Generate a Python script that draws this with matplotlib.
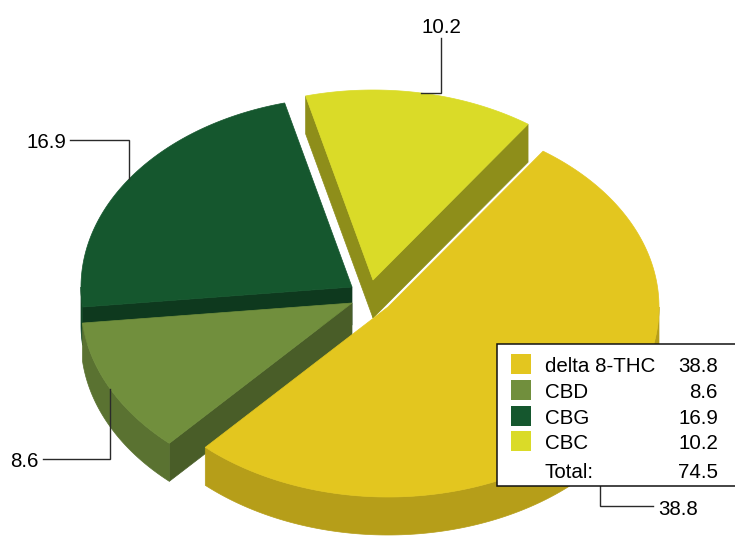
import numpy as np
import matplotlib
matplotlib.use('Agg')
import matplotlib.pyplot as plt
from matplotlib.patches import Polygon, Rectangle
from matplotlib.colors import to_rgb

# ---- data ----
categories = ['delta 8-THC', 'CBD', 'CBG', 'CBC']
values = [38.8, 8.6, 16.9, 10.2]
total_label = 'Total:'

# ---- style ----
colors = ['#E3C61F', '#718F3D', '#15572E', '#DADB28']
FONT = 'Liberation Sans'
FS = 14.8

W, H = 735, 540
fig = plt.figure(figsize=(W / 100, H / 100), dpi=100)
ax = fig.add_axes([0, 0, 1, 1])
ax.set_xlim(0, W)
ax.set_ylim(H, 0)
ax.axis('off')
fig.patch.set_facecolor('white')

# pie geometry (pixel space)
cx, cy = 352, 287
rx, ry = 271, 190
depth = 38
startangle = 55.1
explode_px = [(36, 20), (0, 16), (0, 0), (21, -7)]
# label leader ends and elbow mode ('v' = vertical first, 'h' = horizontal first)
label_ends = [(653, 506), (43, 459), (70, 140), (441, 38)]
label_modes = ['v', 'v', 'v', 'h']

vals = np.array(values, dtype=float)
spans = vals / vals.sum() * 360.0
a2s = startangle - np.concatenate([[0.0], np.cumsum(spans)[:-1]])
a1s = a2s - spans
mids = (a1s + a2s) / 2.0


def shade(c, f):
    r, g, b = to_rgb(c)
    return (r * f, g * f, b * f)


def pt(c, th_deg, dz=0.0):
    th = np.radians(th_deg)
    return (c[0] + rx * np.cos(th), c[1] - ry * np.sin(th) + dz)


order = np.argsort(-np.sin(np.radians(mids)))
anchors = {}
for rank, i in enumerate(order):
    a1, a2 = a1s[i], a2s[i]
    c = (cx + explode_px[i][0], cy + explode_px[i][1])
    z = 2 + rank * 5
    top_c = colors[i]
    side_c = shade(top_c, 0.80)
    rad_c = shade(top_c, 0.65)

    # radial faces
    for ang, vis in ((a1, np.cos(np.radians(a1)) > 0), (a2, np.cos(np.radians(a2)) < 0)):
        if vis:
            p = pt(c, ang)
            poly = [c, p, (p[0], p[1] + depth), (c[0], c[1] + depth)]
            ax.add_patch(Polygon(poly, closed=True, facecolor=rad_c, edgecolor=rad_c,
                                 lw=0.5, zorder=z))
    # outer curved side (front half only)
    for k in range(-2, 3):
        lo = max(a1, 180 + 360 * k)
        hi = min(a2, 360 + 360 * k)
        if hi > lo:
            t = np.linspace(lo, hi, 200)
            topp = [pt(c, tt) for tt in t]
            botp = [pt(c, tt, depth) for tt in t[::-1]]
            ax.add_patch(Polygon(topp + botp, closed=True, facecolor=side_c,
                                 edgecolor=side_c, lw=0.5, zorder=z + 1))
    # top face
    t = np.linspace(a1, a2, 300)
    poly = [c] + [pt(c, tt) for tt in t]
    ax.add_patch(Polygon(poly, closed=True, facecolor=top_c, edgecolor=top_c,
                         lw=0.5, zorder=z + 2))
    anchors[i] = pt(c, mids[i])

# leader lines and labels
for i in range(len(values)):
    ax0, ay0 = anchors[i]
    ex, ey = label_ends[i]
    if label_modes[i] == 'v':
        xs, ys = [ax0, ax0, ex], [ay0, ey, ey]
    else:
        xs, ys = [ax0, ex, ex], [ay0, ay0, ey]
    ax.plot(xs, ys, color='#2a2a2a', lw=1.0, zorder=30, solid_joinstyle='miter')
    txt = f'{values[i]:.1f}'
    if label_modes[i] == 'h':
        ax.text(ex, ey - 5, txt, ha='center', va='baseline', fontsize=FS,
                family=FONT, zorder=31)
    elif ex < ax0:
        ax.text(ex - 4, ey + 8, txt, ha='right', va='baseline', fontsize=FS,
                family=FONT, zorder=31)
    else:
        ax.text(ex + 5, ey + 9, txt, ha='left', va='baseline', fontsize=FS,
                family=FONT, zorder=31)

# legend box
ax.add_patch(Rectangle((497, 344), 260, 142, facecolor='white', edgecolor='#111111',
                       lw=1.1, zorder=40))
row_c = [364, 390, 416, 441]
for i, name in enumerate(categories):
    yc = row_c[i]
    ax.add_patch(Rectangle((511, yc - 10), 20, 20, facecolor=colors[i],
                           edgecolor='none', zorder=41))
    ax.text(545, yc + 8, name, ha='left', va='baseline', fontsize=FS, family=FONT, zorder=42)
    ax.text(718, yc + 8, f'{values[i]:.1f}', ha='right', va='baseline', fontsize=FS,
            family=FONT, zorder=42)
ax.text(545, 478, total_label, ha='left', va='baseline', fontsize=FS, family=FONT, zorder=42)
ax.text(718, 478, f'{sum(values):.1f}', ha='right', va='baseline', fontsize=FS,
        family=FONT, zorder=42)

fig.savefig('out.png', dpi=100, facecolor='white')
